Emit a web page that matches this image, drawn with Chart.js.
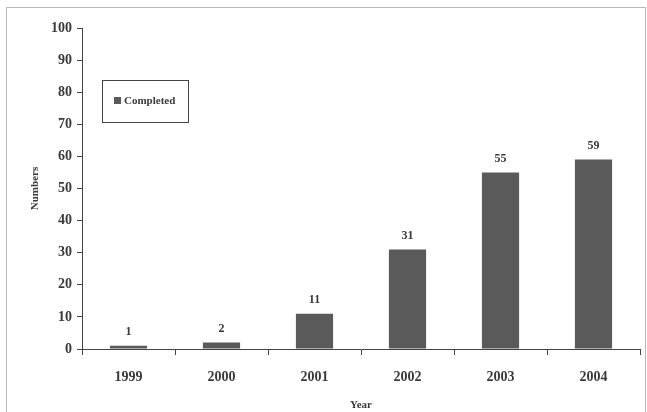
<!DOCTYPE html>
<html>
<head>
<meta charset="utf-8">
<script src="https://cdn.jsdelivr.net/npm/chart.js@4/dist/chart.umd.min.js"></script>
<style>
  html, body { margin: 0; padding: 0; background: #fff; }
  #wrap { width: 647px; height: 412px; }
</style>
</head>
<body>
<div id="wrap"><canvas id="c" width="647" height="412"></canvas></div>
<script>
const years = ['1999', '2000', '2001', '2002', '2003', '2004'];
const completed = [1, 2, 11, 31, 55, 59];
const seriesName = 'Completed';
const yTicks = [0, 10, 20, 30, 40, 50, 60, 70, 80, 90, 100];

const serif = '"Liberation Serif", "Times New Roman", serif';
const ink = '#3a3a3a';
const barColor = '#5a5a5a';

// Frame around the whole figure, axis titles, legend box and value labels
const decorations = {
  id: 'decorations',
  beforeDraw(chart) {
    const ctx = chart.ctx;
    ctx.save();
    ctx.fillStyle = '#fff';
    ctx.fillRect(0, 0, chart.width, chart.height);
    ctx.strokeStyle = '#b8b8b8';
    ctx.lineWidth = 1;
    ctx.strokeRect(6.5, 7.5, 639, 410);
    ctx.restore();
  },
  afterDraw(chart) {
    const ctx = chart.ctx;
    const area = chart.chartArea;
    ctx.save();
    ctx.fillStyle = ink;

    // value labels above bars
    ctx.font = 'bold 12px ' + serif;
    ctx.textAlign = 'center';
    ctx.textBaseline = 'bottom';
    const meta = chart.getDatasetMeta(0);
    meta.data.forEach((bar, i) => {
      ctx.fillText(String(completed[i]), bar.x, bar.y - 8);
    });

    // x axis title
    ctx.font = 'bold 11px ' + serif;
    ctx.textBaseline = 'middle';
    ctx.fillText('Year', (area.left + area.right) / 2, 405);

    // y axis title
    ctx.save();
    ctx.translate(35, (area.top + area.bottom) / 2);
    ctx.rotate(-Math.PI / 2);
    ctx.fillText('Numbers', 0, 0);
    ctx.restore();

    // legend box
    ctx.strokeStyle = '#444';
    ctx.lineWidth = 1;
    ctx.strokeRect(102.5, 80.5, 86, 42);
    ctx.fillStyle = barColor;
    ctx.fillRect(114, 97, 7, 7);
    ctx.fillStyle = ink;
    ctx.font = 'bold 11px ' + serif;
    ctx.textAlign = 'left';
    ctx.fillText(seriesName, 124, 101);
    ctx.restore();
  }
};

new Chart(document.getElementById('c'), {
  type: 'bar',
  data: {
    labels: years,
    datasets: [{
      label: seriesName,
      data: completed,
      backgroundColor: barColor,
      borderWidth: 0,
      barPercentage: 0.8,
      categoryPercentage: 0.5
    }]
  },
  options: {
    responsive: false,
    animation: false,
    devicePixelRatio: 1,
    layout: { padding: { top: 28, right: 7, left: 0, bottom: 0 } },
    plugins: {
      legend: { display: false },
      tooltip: { enabled: false },
      title: { display: false }
    },
    scales: {
      x: {
        offset: true,
        grid: {
          offset: true,
          drawOnChartArea: false,
          drawTicks: true,
          tickLength: 6,
          tickColor: '#444'
        },
        border: { display: true, color: '#444', width: 1 },
        ticks: {
          color: ink,
          font: { family: serif, size: 14, weight: 'bold' },
          padding: 14,
          maxRotation: 0
        },
        afterFit(scale) { scale.height = 63; }
      },
      y: {
        min: 0,
        max: 100,
        afterBuildTicks(scale) { scale.ticks = yTicks.map(v => ({ value: v })); },
        grid: {
          drawOnChartArea: false,
          drawTicks: true,
          tickLength: 5,
          tickColor: '#444'
        },
        border: { display: true, color: '#444', width: 1 },
        ticks: {
          color: ink,
          font: { family: serif, size: 14, weight: 'bold' },
          padding: 5
        },
        afterFit(scale) { scale.width = 82; }
      }
    }
  },
  plugins: [decorations]
});
</script>
</body>
</html>
